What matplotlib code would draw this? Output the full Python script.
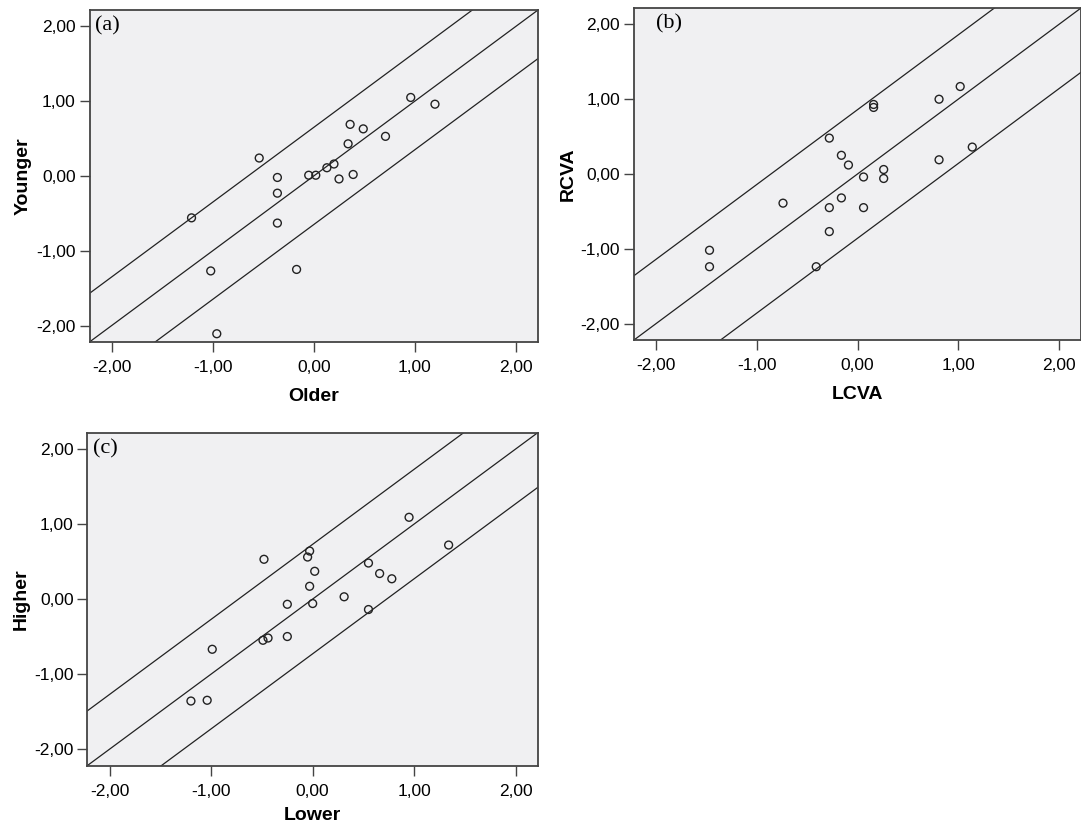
import numpy as np
import matplotlib.pyplot as plt

plt.rcParams['font.family'] = ['Liberation Sans', 'DejaVu Sans']

# (a) Older vs Younger
older = [-0.54, -1.21, -0.36, -0.36, -0.36, -1.02, -0.96, -0.17, -0.05, 0.02,
         0.13, 0.20, 0.25, 0.39, 0.34, 0.36, 0.49, 0.71, 0.96, 1.20]
younger = [0.24, -0.56, -0.02, -0.23, -0.63, -1.27, -2.11, -1.25, 0.01, 0.01,
           0.11, 0.16, -0.04, 0.02, 0.43, 0.69, 0.63, 0.53, 1.05, 0.96]

# (b) LCVA vs RCVA
lcva = [-1.47, -1.47, -0.41, -0.74, -0.28, -0.28, -0.28, -0.16, -0.09, -0.16,
        0.06, 0.06, 0.16, 0.16, 0.26, 0.26, 0.81, 0.81, 1.02, 1.14]
rcva = [-1.02, -1.24, -1.24, -0.39, 0.48, -0.45, -0.77, 0.25, 0.12, -0.32,
        -0.04, -0.45, 0.93, 0.89, 0.06, -0.06, 1.00, 0.19, 1.17, 0.36]

# (c) Lower vs Higher
lower = [-1.20, -1.04, -0.99, -0.48, -0.49, -0.44, -0.25, -0.25, -0.05, -0.03,
         0.02, -0.03, 0.00, 0.31, 0.55, 0.55, 0.66, 0.78, 0.95, 1.34]
higher = [-1.36, -1.35, -0.67, 0.53, -0.55, -0.52, -0.07, -0.50, 0.56, 0.64,
          0.37, 0.17, -0.06, 0.03, 0.48, -0.14, 0.34, 0.27, 1.09, 0.72]

# band half-widths around the identity line
band = {'a': 0.65, 'b': 0.86, 'c': 0.73}
ticks = [-2, -1, 0, 1, 2]
tick_labels = ['-2,00', '-1,00', '0,00', '1,00', '2,00']

fig = plt.figure(figsize=(10.81, 8.25), dpi=100)

panels = [
    ([0.0828, 0.5855, 0.4149, 0.4024], older, younger, 'Older', 'Younger', '(a)', 'a', -2.17, 9),
    ([0.5865, 0.5879, 0.4135, 0.4024], lcva, rcva, 'LCVA', 'RCVA', '(b)', 'b', -2.0, 9),
    ([0.0809, 0.0721, 0.4167, 0.4036], lower, higher, 'Lower', 'Higher', '(c)', 'c', -2.17, 6),
]

lim = 2.22
xx = np.array([-3, 3])
for rect, x, y, xlab, ylab, tag, key, tagx, xpad in panels:
    ax = fig.add_axes(rect)
    ax.set_facecolor('#f0f0f2')
    d = band[key]
    for off in (-d, 0, d):
        ax.plot(xx, xx + off, color='#222222', lw=0.9)
    ax.scatter(x, y, s=32, facecolors='none', edgecolors='#222222', linewidths=1.0, zorder=3)
    ax.set_xlim(-lim, lim)
    ax.set_ylim(-lim, lim)
    ax.set_xticks(ticks)
    ax.set_xticklabels(tick_labels)
    ax.set_yticks(ticks)
    ax.set_yticklabels(tick_labels)
    ax.tick_params(labelsize=12.5, length=7, width=1.0, color='#444444', pad=3)
    ax.tick_params(axis='x', pad=6)
    ax.set_xlabel(xlab, fontsize=14, fontweight='bold', labelpad=xpad)
    ax.set_ylabel(ylab, fontsize=14, fontweight='bold', labelpad=3)
    for s in ax.spines.values():
        s.set_color('#444444')
        s.set_linewidth(1.3)
    ax.text(tagx, 2.13, tag, fontsize=16, family=['Liberation Serif', 'DejaVu Serif'],
            va='top', ha='left')

fig.savefig('out.png', dpi=100)
